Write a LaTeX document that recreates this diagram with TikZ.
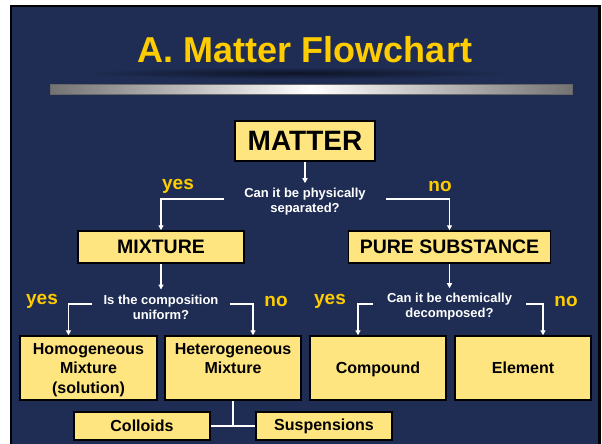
\documentclass[tikz,border=0pt]{standalone}
\usepackage{fontspec}
\setmainfont{Liberation Sans}
\usetikzlibrary{arrows.meta}
\definecolor{slide}{HTML}{1F2D54}
\definecolor{gold}{HTML}{FFCC00}
\definecolor{pale}{HTML}{FFE57F}
\tikzset{
    box/.style={
        draw=black,
        line width=1.5pt,
        fill=pale,
        inner sep=0pt,
        align=center,
        font=\bfseries\fontsize{16}{19.5}\selectfont
    },
    bigbox/.style={
        box,
        minimum height=32,
        font=\bfseries\fontsize{19.5}{22}\selectfont
    },
    leafbox/.style={
        box,
        minimum width=136,
        minimum height=64,
        text depth=-2pt
    },
    question/.style={
        text=white,
        align=center,
        inner xsep=12pt,
        inner ysep=5pt,
        font=\bfseries\fontsize{13}{15}\selectfont
    },
    answer/.style={
        text=gold,
        inner sep=0pt,
        font=\bfseries\fontsize{19}{21}\selectfont
    },
    link/.style={draw=white, line width=1.6pt},
    arrow/.style={link, -{Triangle[length=5pt,width=5pt]}}
}

\begin{document}
\begin{tikzpicture}[x=1pt, y=-1pt]
    \useasboundingbox (0,0) rectangle (602,444);
    \fill[white] (0,0) rectangle (602,444);
    \fill[black] (10,5) rectangle (601,444);
    \fill[slide] (12,7) rectangle (598,444);
    \shade[inner color=black!55!slide, outer color=slide] (296,73) ellipse [x radius=215, y radius=6];
    \shade[left color=black!55, right color=black!55, middle color=white, draw=black!60, line width=0.4pt] (50,84) rectangle (572,94);
    \node[text=gold, font=\bfseries\fontsize{36}{40}\selectfont] (title) at (305,50) {A. Matter Flowchart};

    \node[box, minimum width=140, minimum height=40, font=\bfseries\fontsize{28}{30}\selectfont] (matter) at (305,141) {MATTER};
    \node[question, inner xsep=20pt] (physical) at (305,202) {Can it be physically\\separated?};
    \node[answer] (yes1) at (178,186) {yes};
    \node[answer] (no1) at (440,186) {no};

    \node[bigbox, minimum width=166] (mixture) at (161,247) {MIXTURE};
    \node[bigbox, minimum width=202] (pure) at (449.5,247) {PURE SUBSTANCE};
    \node[question, inner xsep=11pt] (uniform) at (161,307) {Is the composition\\uniform?};
    \node[question, inner xsep=14pt] (chemical) at (449.5,307) {Can it be chemically\\decomposed?};
    \node[answer] (yes2) at (42,301) {yes};
    \node[answer] (no2) at (276,301) {no};
    \node[answer] (yes3) at (330,301) {yes};
    \node[answer] (no3) at (566,301) {no};

    \node[leafbox, minimum width=137] (homogeneous) at (88.5,368) {Homogeneous\\Mixture\\(solution)};
    \node[leafbox] (heterogeneous) at (233,368) {Heterogeneous\\Mixture\\~};
    \node[leafbox] (compound) at (378,368) {Compound};
    \node[leafbox] (element) at (523,368) {Element};
    \node[box, minimum width=136, minimum height=28] (colloids) at (142,426) {Colloids};
    \node[box, minimum width=136, minimum height=28] (suspensions) at (324,426) {Suspensions};

    \draw[arrow] (matter) -- (physical);
    \draw[arrow] ([yshift=3pt]physical.west) -| (mixture);
    \draw[arrow] ([yshift=3pt]physical.east) -| (pure);
    \draw[arrow] (mixture) -- (uniform);
    \draw[arrow] (pure) -- (chemical);
    \draw[arrow] ([yshift=3pt]uniform.west) -| ([xshift=-20pt]homogeneous.north);
    \draw[arrow] ([yshift=3pt]uniform.east) -| ([xshift=20pt]heterogeneous.north);
    \draw[arrow] ([yshift=3pt]chemical.west) -| ([xshift=-20pt]compound.north);
    \draw[arrow] ([yshift=3pt]chemical.east) -| ([xshift=20pt]element.north);
    \draw[link] (heterogeneous) -- (heterogeneous |- colloids);
    \draw[link] (colloids) -- (suspensions);
\end{tikzpicture}
\end{document}
